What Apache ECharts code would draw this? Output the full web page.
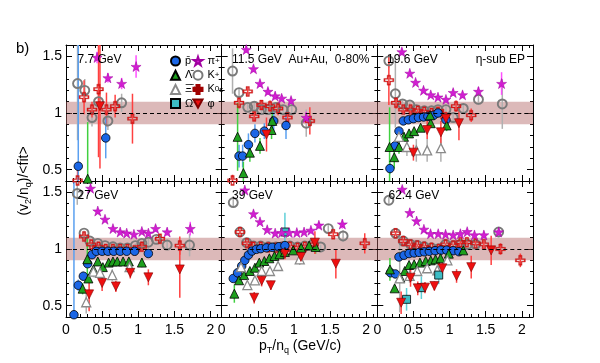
<!DOCTYPE html>
<html><head><meta charset="utf-8">
<script src="https://cdn.jsdelivr.net/npm/echarts@6/dist/echarts.min.js"></script>
<style>html,body{margin:0;padding:0;background:#fff}#c{width:600px;height:363px}</style>
</head><body><div id="c"></div>
<script>
// ---------------- data: [pT/nq, ratio, error] ----------------
const panelLabels = ['7.7 GeV', '11.5 GeV  Au+Au,  0-80%', '19.6 GeV', '27 GeV', '39 GeV', '62.4 GeV'];
const xTickLabels = [0, 0.5, 1, 1.5, 2];
const yTickLabels = [0.5, 1, 1.5];

// 7.7 GeV
const e7_pbar = [[0.17,0.53,1.2],[0.55,0.78,0.18]];
const e7_lam = [[0.30,0.42,0.5]];
const e7_xi = [];
const e7_omega = [];
const e7_pi = [[0.43,1.49,0.05],[0.58,1.31,0.04],[0.77,1.26,0.05],[0.97,1.41,0.1]];
const e7_kp = [[0.16,1.26,0.5],[0.26,1.20,0.1],[0.36,0.96,0.08],[0.45,1.10,0.07],[0.58,0.93,0.08],[0.77,1.09,0.08]];
const e7_k0s = [[0.16,0.405,0.1],[0.25,1.14,0.15],[0.36,1.03,0.07],[0.45,1.21,0.6],[0.56,1.03,0.15],[0.68,1.06,0.1],[0.92,0.95,0.22]];
const e7_phi = [[0.47,1.06,0.55]];
// 11.5 GeV
const e11_pbar = [[0.24,0.62,0.1],[0.29,0.62,0.1],[0.37,0.72,0.1],[0.46,0.82,0.08],[0.59,0.84,0.07],[0.72,0.93,0.1],[0.89,0.89,0.12]];
const e11_lam = [[0.22,0.79,0.3],[0.30,0.47,0.1],[0.39,0.65,0.08],[0.53,0.71,0.07],[0.69,0.85,0.08],[0.70,0.93,0.1]];
const e11_xi = [];
const e11_omega = [];
const e11_pi = [[0.34,1.56,0.03],[0.44,1.39,0.03],[0.53,1.26,0.03],[0.64,1.19,0.03],[0.74,1.15,0.03],[0.83,1.13,0.03],[0.96,1.11,0.03],[1.17,0.96,0.05]];
const e11_kp = [[0.15,1.37,0.2],[0.24,1.18,0.04],[0.36,1.05,0.03],[0.45,1.06,0.03],[0.55,1.03,0.03],[0.64,1.03,0.03],[0.75,1.05,0.03],[0.85,1.03,0.04],[0.97,1.03,0.05],[1.17,0.91,0.12]];
const e11_k0s = [[0.15,0.405,0.05],[0.24,1.09,0.05],[0.36,1.19,0.03],[0.45,0.97,0.04],[0.55,1.07,0.04],[0.67,1.06,0.05],[0.78,1.04,0.06],[0.91,0.96,0.07],[1.22,0.93,0.12]];
const e11_phi = [[0.62,0.81,0.15]];
// 19.6 GeV
const e19_pbar = [[0.175,0.51,0.05],[0.245,0.71,0.05],[0.30,0.84,0.04],[0.36,0.93,0.03],[0.43,0.94,0.02],[0.50,0.95,0.02],[0.57,0.96,0.02],[0.64,0.965,0.02],[0.70,0.97,0.02],[0.78,0.98,0.02],[0.84,1.0,0.02],[0.95,0.94,0.03]];
const e19_lam = [[0.17,0.70,0.35],[0.235,0.61,0.1],[0.30,0.70,0.06],[0.37,0.79,0.04],[0.44,0.82,0.03],[0.51,0.84,0.03],[0.60,0.87,0.03],[0.74,0.91,0.04],[0.73,0.98,0.04],[0.96,0.89,0.05]];
const e19_xi = [[0.30,0.79,0.08],[0.41,0.70,0.08],[0.54,0.67,0.1],[0.69,0.67,0.1],[0.88,0.69,0.12]];
const e19_omega = [];
const e19_pi = [[0.34,1.54,0.03],[0.45,1.35,0.02],[0.53,1.27,0.02],[0.64,1.20,0.02],[0.74,1.16,0.02],[0.84,1.14,0.02],[0.95,1.12,0.02],[1.05,1.18,0.03],[1.18,1.16,0.03],[1.40,1.19,0.04],[1.72,1.26,0.1]];
const e19_kp = [[0.16,1.46,0.06],[0.25,1.17,0.3],[0.35,1.08,0.03],[0.45,1.07,0.02],[0.54,1.03,0.02],[0.65,1.02,0.02],[0.75,1.02,0.02],[0.84,1.03,0.02],[0.95,1.03,0.03],[1.05,0.96,0.03],[1.19,1.04,0.04],[1.40,1.12,0.05],[1.73,1.08,0.22]];
const e19_k0s = [[0.16,1.29,0.22],[0.26,1.09,0.05],[0.36,1.03,0.03],[0.46,1.03,0.03],[0.56,1.02,0.02],[0.65,1.01,0.02],[0.75,1.00,0.02],[0.84,1.01,0.03],[0.90,0.99,0.04],[1.09,1.06,0.05],[1.30,0.98,0.06]];
const e19_phi = [[0.50,0.65,0.07],[0.69,0.85,0.08],[0.88,0.83,0.1],[1.13,0.91,0.15],[0.95,0.95,0.06]];
// 27 GeV
const e27_pbar = [[0.11,0.42,1.2],[0.17,0.68,0.05],[0.24,0.76,0.04],[0.30,0.87,0.03],[0.36,0.95,0.02],[0.42,0.98,0.02],[0.50,0.98,0.02],[0.58,0.98,0.02],[0.66,0.98,0.02],[0.75,0.98,0.02],[0.84,0.98,0.02],[0.95,0.98,0.02],[1.14,0.96,0.04]];
const e27_lam = [[0.295,0.91,0.2],[0.23,0.65,0.05],[0.31,0.74,0.04],[0.38,0.82,0.03],[0.44,0.89,0.03],[0.51,0.84,0.03],[0.59,0.88,0.02],[0.65,0.89,0.02],[0.71,0.89,0.02],[0.79,0.89,0.02],[0.87,0.89,0.03],[1.05,0.88,0.04]];
const e27_xi = [[0.28,0.53,0.1],[0.38,0.80,0.05],[0.47,0.79,0.05],[0.64,0.77,0.05],[0.88,0.84,0.06]];
const e27_omega = [];
const e27_pi = [[0.34,1.535,0.02],[0.44,1.335,0.02],[0.54,1.262,0.02],[0.65,1.18,0.02],[0.75,1.15,0.02],[0.84,1.14,0.02],[0.94,1.13,0.02],[1.05,1.155,0.02],[1.14,1.14,0.03],[1.24,1.18,0.03],[1.40,1.15,0.03],[1.72,1.18,0.06]];
const e27_kp = [[0.156,1.49,0.1],[0.25,1.14,0.02],[0.33,1.07,0.02],[0.44,1.05,0.02],[0.54,1.03,0.02],[0.65,1.02,0.02],[0.75,1.01,0.02],[0.85,1.01,0.02],[0.96,1.03,0.02],[1.05,1.05,0.02],[1.14,1.06,0.03],[1.25,1.085,0.03],[1.40,1.035,0.04],[1.71,1.035,0.1]];
const e27_k0s = [[0.25,1.11,0.03],[0.35,1.04,0.02],[0.45,1.02,0.02],[0.55,1.00,0.02],[0.65,1.00,0.02],[0.75,1.00,0.02],[0.85,1.00,0.02],[0.95,0.99,0.02],[1.05,1.02,0.03],[1.30,1.09,0.04],[1.575,1.03,0.08]];
const e27_phi = [[0.32,0.60,0.15],[0.50,0.70,0.07],[0.69,0.67,0.05],[0.89,0.79,0.05],[1.14,0.75,0.07],[1.575,0.82,0.25]];
// 39 GeV
const e39_pbar = [[0.16,0.74,0.02],[0.22,0.79,0.02],[0.277,0.85,0.02],[0.32,0.90,0.02],[0.37,0.947,0.01],[0.42,0.982,0.01],[0.48,0.997,0.01],[0.54,1.003,0.01],[0.62,1.01,0.01],[0.70,1.015,0.01],[0.79,1.02,0.01],[0.875,1.03,0.01]];
const e39_lam = [[0.175,0.606,0.08],[0.24,0.724,0.03],[0.31,0.77,0.02],[0.39,0.806,0.02],[0.46,0.835,0.02],[0.52,0.88,0.02],[0.59,0.894,0.02],[0.66,0.918,0.02],[0.73,0.938,0.02],[0.80,0.953,0.02],[0.875,0.974,0.02],[0.99,0.988,0.03],[1.10,1.01,0.03],[1.21,1.03,0.04],[1.30,1.018,0.06]];
const e39_xi = [[0.267,0.84,0.03],[0.355,0.682,0.03],[0.46,0.724,0.03],[0.553,0.806,0.04],[0.668,0.806,0.04],[0.78,0.85,0.04],[1.08,0.909,0.05]];
const e39_omega = [[0.875,1.15,0.17]];
const e39_pi = [[0.32,1.52,0.02],[0.44,1.31,0.02],[0.53,1.24,0.02],[0.63,1.17,0.02],[0.74,1.14,0.02],[0.83,1.145,0.02],[0.935,1.145,0.02],[1.04,1.145,0.02],[1.14,1.15,0.02],[1.235,1.165,0.02],[1.345,1.21,0.03],[1.67,1.22,0.04]];
const e39_kp = [[0.16,1.41,0.03],[0.253,1.15,0.02],[0.345,1.056,0.02],[0.44,1.026,0.02],[0.54,1.026,0.01],[0.645,1.02,0.01],[0.75,1.018,0.01],[0.84,1.02,0.01],[0.945,1.026,0.01],[1.05,1.018,0.01],[1.15,1.026,0.02],[1.27,1.047,0.02],[1.37,1.018,0.02],[1.475,1.18,0.03],[1.68,1.115,0.05]];
const e39_k0s = [[0.253,1.15,0.02],[0.35,1.05,0.02],[0.44,1.02,0.01],[0.54,1.02,0.01],[0.645,1.015,0.01],[0.75,1.01,0.01],[0.84,1.015,0.01],[0.945,1.02,0.01],[1.05,1.01,0.02],[1.15,1.02,0.02],[1.27,1.04,0.02],[1.544,1.13,0.03],[1.98,1.05,0.09]];
const e39_phi = [[1.29,1.056,0.1],[0.45,0.57,0.05],[0.553,0.72,0.05],[0.68,0.68,0.04],[0.875,0.96,0.05],[1.097,0.93,0.06],[1.58,0.87,0.13]];
// 62.4 GeV
const e62_pbar = [[0.184,0.79,0.02],[0.25,0.78,0.02],[0.30,0.93,0.02],[0.37,0.945,0.01],[0.44,0.96,0.01],[0.51,0.965,0.01],[0.58,0.97,0.01],[0.65,0.975,0.01],[0.72,0.98,0.01],[0.80,0.985,0.01],[0.88,0.99,0.01],[0.96,0.99,0.01],[1.05,0.985,0.01],[1.13,0.976,0.02]];
const e62_lam = [[0.175,0.82,0.1],[0.24,0.653,0.03],[0.32,0.747,0.02],[0.38,0.806,0.02],[0.44,0.859,0.02],[0.51,0.865,0.02],[0.59,0.88,0.02],[0.67,0.894,0.02],[0.74,0.90,0.02],[0.806,0.909,0.02],[0.875,0.918,0.02],[0.99,0.959,0.02],[1.19,0.988,0.03]];
const e62_xi = [[0.31,0.741,0.3],[0.447,0.762,0.06],[0.553,0.806,0.04],[0.69,0.83,0.04],[0.83,0.812,0.04],[0.97,0.9,0.04]];
const e62_omega = [[0.405,0.556,0.1],[0.61,0.659,0.1],[0.85,0.77,0.08]];
const e62_pi = [[0.345,1.526,0.02],[0.45,1.32,0.02],[0.544,1.247,0.02],[0.645,1.174,0.02],[0.737,1.135,0.02],[0.843,1.135,0.02],[0.945,1.13,0.02],[1.05,1.124,0.02],[1.15,1.135,0.02],[1.244,1.153,0.02],[1.345,1.124,0.02],[1.475,1.124,0.03],[1.68,1.15,0.04]];
const e62_kp = [[0.16,1.43,0.03],[0.253,1.138,0.02],[0.36,1.07,0.02],[0.46,1.041,0.01],[0.553,1.032,0.01],[0.65,1.02,0.01],[0.75,1.01,0.01],[0.85,1.003,0.01],[0.945,1.041,0.01],[1.05,1.03,0.01],[1.15,1.04,0.02],[1.25,1.04,0.02],[1.36,1.041,0.02],[1.68,1.15,0.03]];
const e62_k0s = [[0.253,1.138,0.02],[0.36,1.07,0.02],[0.46,1.04,0.01],[0.553,1.03,0.01],[0.65,1.02,0.01],[0.75,1.01,0.01],[0.85,1.00,0.01],[0.945,1.04,0.01],[1.05,1.03,0.01],[1.15,1.06,0.02],[1.24,1.06,0.02],[1.36,1.05,0.02],[1.475,1.041,0.03],[1.705,1.0,0.05],[1.98,0.9,0.06]];
const e62_phi = [[0.33,0.526,0.1],[0.46,0.747,0.08],[0.56,0.653,0.06],[0.66,0.659,0.05],[0.79,0.674,0.04],[0.90,0.83,0.05],[1.097,0.762,0.06],[1.30,0.84,0.1],[1.576,0.988,0.13]];

// ---------------- layout & styles ----------------
const XMAX = 2.155, YMIN = 0.4, YMAX = 1.6;
const COLS = [66, 221.7, 377.3], ROWS = [45, 181], PW = 155.7, PH = 136;
const FONT = 'Liberation Sans, Arial, Helvetica, sans-serif';
const STAR = 'path://M50,0 L61.8,35.1 L98.1,35.1 L68.7,56.8 L79.4,90.9 L50,69.1 L20.6,90.9 L31.3,56.8 L1.9,35.1 L38.2,35.1 Z';
const CROSS = 'path://M33,0 L67,0 L67,33 L100,33 L100,67 L67,67 L67,100 L33,100 L33,67 L0,67 L0,33 L33,33 Z M41,12 L41,41 L12,41 L12,59 L41,59 L41,88 L59,88 L59,59 L88,59 L88,41 L59,41 L59,12 Z';
const DOWN = 'path://M0,0 L100,0 L50,90 Z';

const species = {
  kp:    {symbol:'circle', size:9, fill:'rgba(255,255,255,0)', border:'#7a7a7a', bw:1.9, err:'#b0b0b0', label:'K{sup|+}'},
  k0s:   {symbol:CROSS, size:10, fill:'#ee1c1c', border:'#a00000', bw:0.3, err:'#ff4040', label:'K{sup|0}{sub|s}'},
  pbar:  {symbol:'circle', size:8.5, fill:'#1a66e6', border:'#000', bw:0.8, err:'#5aa0f0', label:'p\u0304'},
  lam:   {symbol:'triangle', size:9, fill:'#1ea01e', border:'#000', bw:0.8, err:'#40d040', label:'\u039B\u0304'},
  xi:    {symbol:'triangle', size:9, fill:'#ffffff', border:'#8a8a8a', bw:1.3, err:'#b0b0b0', label:'\u039E\u0304{sup|+}'},
  omega: {symbol:'rect', size:8, fill:'#3cbcc4', border:'#000', bw:0.8, err:'#60d0d8', label:'\u03A9\u0304{sup|+}'},
  phi:   {symbol:DOWN, size:9, fill:'#ee1010', border:'#800000', bw:0.6, err:'#ff4040', label:'\u03C6'},
  pi:    {symbol:STAR, size:10, fill:'#d21ed2', border:'#a000a0', bw:0.5, err:'#ff50ff', label:'\u03C0{sup|+}'}
};
const panels = [
  {pbar:e7_pbar, lam:e7_lam, xi:e7_xi, omega:e7_omega, pi:e7_pi, kp:e7_kp, k0s:e7_k0s, phi:e7_phi},
  {pbar:e11_pbar, lam:e11_lam, xi:e11_xi, omega:e11_omega, pi:e11_pi, kp:e11_kp, k0s:e11_k0s, phi:e11_phi},
  {pbar:e19_pbar, lam:e19_lam, xi:e19_xi, omega:e19_omega, pi:e19_pi, kp:e19_kp, k0s:e19_k0s, phi:e19_phi},
  {pbar:e27_pbar, lam:e27_lam, xi:e27_xi, omega:e27_omega, pi:e27_pi, kp:e27_kp, k0s:e27_k0s, phi:e27_phi},
  {pbar:e39_pbar, lam:e39_lam, xi:e39_xi, omega:e39_omega, pi:e39_pi, kp:e39_kp, k0s:e39_k0s, phi:e39_phi},
  {pbar:e62_pbar, lam:e62_lam, xi:e62_xi, omega:e62_omega, pi:e62_pi, kp:e62_kp, k0s:e62_k0s, phi:e62_phi}
];

const option = {animation:false, backgroundColor:'#fff', grid:[], xAxis:[], yAxis:[], series:[], legend:[], graphic:[]};

function majorAxis(gi, pos, min, max, ticks, showLabels) {
  return {gridIndex:gi, type:'value', position:pos, min:min, max:max,
    axisLine:{show:true, onZero:false, lineStyle:{color:'#000', width:1}},
    axisTick:{show:true, inside:true, length:6, customValues:ticks, lineStyle:{color:'#000', width:1}},
    axisLabel:{show:showLabels, customValues:ticks, margin:(pos==='left'?4:6), fontSize:14, color:'#000', fontFamily:FONT},
    splitLine:{show:false}};
}
function minorAxis(gi, pos, min, max) {
  return {gridIndex:gi, type:'value', position:pos, min:min, max:max, interval:0.1,
    axisLine:{show:false, onZero:false}, axisTick:{show:true, inside:true, length:3, lineStyle:{color:'#000', width:1}},
    axisLabel:{show:false}, splitLine:{show:false}};
}

const order = ['kp','k0s','pbar','lam','xi','omega','phi','pi'];
for (let p = 0; p < 6; p++) {
  const col = p % 3, row = Math.floor(p / 3);
  option.grid.push({left:COLS[col], top:ROWS[row], width:PW, height:PH, containLabel:false, outerBoundsMode:'none'});
  const xi0 = option.xAxis.length, yi0 = option.yAxis.length;
  option.xAxis.push(majorAxis(p, 'bottom', 0, XMAX, xTickLabels, row === 1));
  option.xAxis.push(minorAxis(p, 'bottom', 0, XMAX));
  option.xAxis.push(majorAxis(p, 'top', 0, XMAX, xTickLabels, false));
  option.xAxis.push(minorAxis(p, 'top', 0, XMAX));
  option.yAxis.push(majorAxis(p, 'left', YMIN, YMAX, yTickLabels, col === 0));
  option.yAxis.push(minorAxis(p, 'left', YMIN, YMAX));
  option.yAxis.push(majorAxis(p, 'right', YMIN, YMAX, yTickLabels, false));
  option.yAxis.push(minorAxis(p, 'right', YMIN, YMAX));

  // band + dashed line at 1
  option.series.push({type:'scatter', xAxisIndex:xi0, yAxisIndex:yi0, data:[], z:1, silent:true,
    markArea:{silent:true, itemStyle:{color:'rgba(178,100,100,0.45)'}, data:[[{yAxis:0.9},{yAxis:1.1}]]},
    markLine:{silent:true, symbol:'none', label:{show:false}, lineStyle:{color:'#000', type:[4,3], width:1}, data:[{yAxis:1}]}
  });
  for (const key of order) {
    const sp = species[key], d = panels[p][key];
    option.series.push({type:'custom', name:key+'_err', xAxisIndex:xi0, yAxisIndex:yi0, data:d, z:2, clip:true, silent:true,
      renderItem:(params, api) => {
        const x = api.value(0), y = api.value(1), e = api.value(2);
        const a = api.coord([x, y - e]), b = api.coord([x, y + e]);
        return {type:'line', shape:{x1:a[0], y1:a[1], x2:b[0], y2:b[1]}, style:{stroke:sp.err, lineWidth:1.5}};
      }});
  }
  for (const key of order) {
    const sp = species[key], d = panels[p][key];
    option.series.push({type:'scatter', name:key, xAxisIndex:xi0, yAxisIndex:yi0, data:d.map(v => [v[0], v[1]]), z:3,
      symbol:sp.symbol, symbolSize:sp.size, itemStyle:{color:sp.fill, borderColor:sp.border, borderWidth:sp.bw, opacity:1}});
  }
}

const richLeg = {sup:{fontSize:8, lineHeight:7, verticalAlign:'top', fontFamily:FONT}, sub:{fontSize:8, lineHeight:7, verticalAlign:'bottom', fontFamily:FONT}};
function legendAt(left, names) {
  return {show:true, orient:'vertical', left:left, top:55.5, itemWidth:9, itemHeight:9, itemGap:3.2, padding:0,
    selectedMode:false, data:names, formatter:(n) => species[n].label,
    textStyle:{fontSize:11, fontFamily:FONT, color:'#000', lineHeight:9, rich:richLeg}};
}
option.legend.push(legendAt(170, ['pbar','lam','xi','omega']));
option.legend.push(legendAt(192.5, ['pi','kp','k0s','phi']));

const txt = (x, y, t, extra) => Object.assign({type:'text', x:x, y:y, z:100, style:Object.assign({text:t, fontSize:12, fontFamily:FONT, fill:'#000', textVerticalAlign:'middle'}, extra || {})});
option.graphic = [
  txt(16, 49, 'b)', {fontSize:15}),
  txt(77.5, 60, panelLabels[0]),
  txt(232, 60, panelLabels[1]),
  txt(387, 60, panelLabels[2]),
  txt(525, 60, '\u03B7-sub EP', {textAlign:'right'}),
  txt(77.5, 196, panelLabels[3]),
  txt(232, 196, panelLabels[4]),
  txt(388.5, 196, panelLabels[5]),
  {type:'text', x:300, y:346, z:100, style:{text:'p{s|T}/n{s|q} (GeV/c)', fontSize:14, fontFamily:FONT, fill:'#000', textAlign:'center', textVerticalAlign:'middle', lineHeight:18,
    rich:{s:{fontSize:9, lineHeight:9, verticalAlign:'bottom', fontFamily:FONT}}}},
  {type:'text', x:24, y:181, rotation:Math.PI/2, z:100, style:{text:'(v{s|2}/n{s|q})/<fit>', fontSize:14, fontFamily:FONT, fill:'#000', textAlign:'center', textVerticalAlign:'middle', lineHeight:18,
    rich:{s:{fontSize:9, lineHeight:9, verticalAlign:'bottom', fontFamily:FONT}}}}
];

const chart = echarts.init(document.getElementById('c'), null, {renderer:'canvas'});
chart.setOption(option);
</script>
</body></html>
